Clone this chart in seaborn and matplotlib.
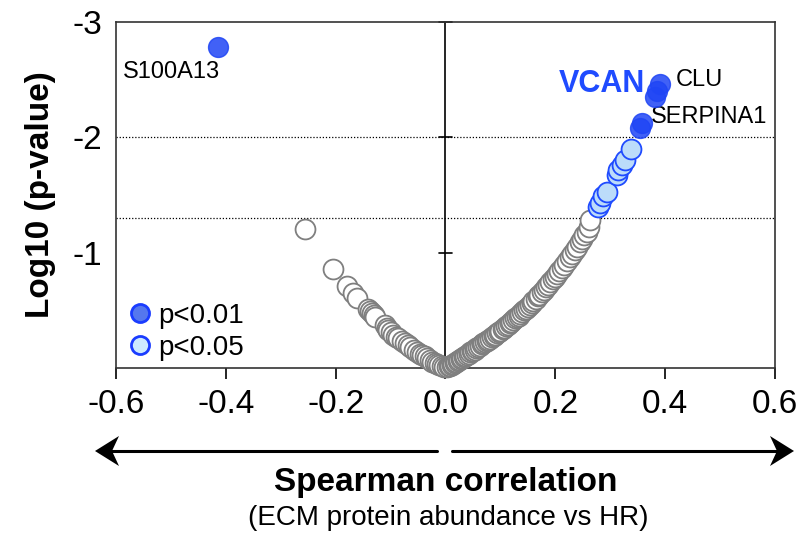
import matplotlib
matplotlib.use("Agg")
import matplotlib.pyplot as plt
import seaborn as sns
import pandas as pd
import numpy as np
from matplotlib.patches import Polygon
from matplotlib.lines import Line2D

# Spearman rho and log10(p) for each ECM protein, grouped by significance
rho_ns = [-0.256, -0.205, -0.179, -0.168, -0.162, -0.141, -0.137, -0.134, -0.131, -0.128,
          -0.110, -0.107, -0.104, -0.100, -0.095, -0.090, -0.086, -0.080, -0.074, -0.069,
          -0.065, -0.058, -0.052, -0.047, -0.043, -0.038, -0.034, -0.029, -0.025, -0.020,
          -0.016, -0.012, -0.007, -0.003,
          0.003, 0.006, 0.009, 0.011, 0.014, 0.017, 0.019, 0.022, 0.025, 0.028,
          0.030, 0.033, 0.036, 0.039, 0.042, 0.045, 0.048, 0.050, 0.053, 0.056,
          0.060, 0.063, 0.066, 0.069, 0.072, 0.075, 0.078, 0.081, 0.085, 0.088,
          0.091, 0.094, 0.097, 0.100, 0.104, 0.107, 0.110, 0.113, 0.117, 0.120,
          0.123, 0.127, 0.130, 0.133, 0.136, 0.140, 0.143, 0.146, 0.150, 0.153,
          0.157, 0.160, 0.164, 0.168, 0.171, 0.175, 0.179, 0.183, 0.187, 0.191,
          0.195, 0.199, 0.203, 0.207, 0.212, 0.216, 0.221, 0.226, 0.231, 0.236,
          0.240, 0.245, 0.249, 0.253, 0.257, 0.261, 0.264]
logp_ns = [-1.205, -0.859, -0.711, -0.648, -0.604, -0.509, -0.490, -0.474, -0.460, -0.445,
           -0.373, -0.350, -0.330, -0.310, -0.286, -0.270, -0.258, -0.235, -0.214, -0.200,
           -0.185, -0.160, -0.141, -0.125, -0.113, -0.100, -0.084, -0.070, -0.055, -0.045,
           -0.035, -0.025, -0.017, -0.008,
           -0.005, -0.015, -0.020, -0.025, -0.035, -0.045, -0.050, -0.060, -0.070, -0.080,
           -0.085, -0.095, -0.105, -0.115, -0.125, -0.135, -0.145, -0.150, -0.160, -0.170,
           -0.185, -0.195, -0.205, -0.215, -0.225, -0.235, -0.245, -0.255, -0.270, -0.280,
           -0.290, -0.305, -0.315, -0.325, -0.340, -0.350, -0.365, -0.375, -0.390, -0.400,
           -0.415, -0.430, -0.445, -0.455, -0.470, -0.485, -0.500, -0.515, -0.530, -0.545,
           -0.565, -0.580, -0.600, -0.620, -0.635, -0.655, -0.680, -0.700, -0.720, -0.745,
           -0.770, -0.790, -0.815, -0.840, -0.870, -0.895, -0.925, -0.960, -0.990, -1.020,
           -1.050, -1.090, -1.120, -1.150, -1.180, -1.220, -1.280]

rho_p05 = [0.278, 0.281, 0.287, 0.294, 0.312, 0.315, 0.321, 0.327, 0.337]
logp_p05 = [-1.40, -1.43, -1.49, -1.53, -1.67, -1.72, -1.76, -1.80, -1.90]

rho_p01 = [-0.415, 0.354, 0.357, 0.381, 0.385, 0.391]
logp_p01 = [-2.78, -2.08, -2.12, -2.35, -2.40, -2.46]

x_ticks = [-0.6, -0.4, -0.2, 0.0, 0.2, 0.4, 0.6]
y_ticks = [-3, -2, -1]
legend_labels = ["p<0.01", "p<0.05"]

df_ns = pd.DataFrame({"rho": rho_ns, "logp": logp_ns})
df_05 = pd.DataFrame({"rho": rho_p05, "logp": logp_p05})
df_01 = pd.DataFrame({"rho": rho_p01, "logp": logp_p01})

sns.set_theme(style="white")
plt.rcParams["font.family"] = ["Liberation Sans", "DejaVu Sans"]
plt.rcParams["text.color"] = "black"
plt.rcParams["axes.labelcolor"] = "black"

W, H = 803, 534
fig = plt.figure(figsize=(W / 100, H / 100), dpi=100)
ax = fig.add_axes([116 / W, 1 - 368 / H, (775 - 116) / W, (368 - 22) / H])

GRAY = "#7f7f7f"
BLUE_EDGE = "#1f4bff"
LIGHT = "#bcdcfa"
DARK = "#1f45f5"
S = 205

sns.scatterplot(data=df_ns, x="rho", y="logp", ax=ax, s=S, facecolor="white",
                edgecolor=GRAY, linewidth=1.3, zorder=3, clip_on=False, legend=False)
sns.scatterplot(data=df_05, x="rho", y="logp", ax=ax, s=S, facecolor=LIGHT,
                edgecolor=BLUE_EDGE, linewidth=1.3, zorder=4, clip_on=False, legend=False)
sns.scatterplot(data=df_01, x="rho", y="logp", ax=ax, s=S, color=DARK, alpha=0.85,
                edgecolor=DARK, linewidth=1.0, zorder=5, clip_on=False, legend=False)

ax.set_xlim(-0.6, 0.6)
ax.set_ylim(0, -3)
ax.set_xticks(x_ticks)
ax.set_xticklabels([f"{abs(v):.1f}" if v == 0 else f"{v:.1f}" for v in x_ticks])
ax.set_yticks(y_ticks)
ax.set_yticklabels([str(v) for v in y_ticks])
ax.tick_params(axis="x", direction="out", length=8, width=1.2, pad=7,
               labelsize=24, colors="black", bottom=True)
ax.tick_params(axis="y", length=0, pad=10, labelsize=24, colors="black", left=True)
ax.set_xlabel("")
for sp in ax.spines.values():
    sp.set_color("#333333")
    sp.set_linewidth(1.2)

# significance thresholds
ax.axhline(-2, color="black", lw=0.9, ls=(0, (1, 1.5)), zorder=1)
ax.axhline(np.log10(0.05), color="black", lw=0.9, ls=(0, (1, 1.5)), zorder=1)

# central axis with cross ticks
ax.axvline(0, color="black", lw=1.2, zorder=2)
for yt in y_ticks:
    ax.plot([-0.011, 0.011], [yt, yt], color="black", lw=1.2, zorder=2, clip_on=False)

# gene labels
ax.text(-0.587, -2.565, "S100A13", fontsize=17, ha="left", va="center", color="black")
ax.text(0.363, -2.46, "VCAN", fontsize=22, fontweight="bold", ha="right", va="center",
        color="#1f4bff")
ax.text(0.42, -2.50, "CLU", fontsize=17, ha="left", va="center", color="black")
ax.text(0.374, -2.175, "SERPINA1", fontsize=17, ha="left", va="center", color="black")

ax.set_ylabel("Log10 (p-value)", fontsize=24, fontweight="bold", labelpad=12,
              color="black")

handles = [
    Line2D([], [], ls="none", marker="o", markersize=13, markerfacecolor="#5577ee",
           markeredgecolor="#1a3cff", markeredgewidth=2),
    Line2D([], [], ls="none", marker="o", markersize=13, markerfacecolor="#cdeaff",
           markeredgecolor="#1a3cff", markeredgewidth=2),
]
ax.legend(handles, legend_labels, loc="lower left", bbox_to_anchor=(-0.025, -0.035),
          frameon=False, fontsize=20, handletextpad=-0.1, labelspacing=0.2,
          borderaxespad=0.3, handlelength=1.5)

# direction arrows beneath the axis
def fx(px):
    return px / W

def fy(py):
    return 1 - py / H

ay = 451
fig.add_artist(Line2D([fx(110), fx(437)], [fy(ay), fy(ay)], color="black", lw=2.2))
fig.add_artist(Line2D([fx(452), fx(778)], [fy(ay), fy(ay)], color="black", lw=2.2))
fig.add_artist(Polygon([(fx(95), fy(ay)), (fx(119), fy(ay - 15)), (fx(112), fy(ay)),
                        (fx(119), fy(ay + 15))], closed=True, color="black", lw=0))
fig.add_artist(Polygon([(fx(794), fy(ay)), (fx(770), fy(ay - 15)), (fx(777), fy(ay)),
                        (fx(770), fy(ay + 15))], closed=True, color="black", lw=0))

fig.text(fx(446), fy(482), "Spearman correlation", fontsize=24, fontweight="bold",
         ha="center", va="center", color="black")
fig.text(fx(448), fy(518), "(ECM protein abundance vs HR)", fontsize=20,
         ha="center", va="center", color="black")

fig.savefig("out.png", dpi=100)
